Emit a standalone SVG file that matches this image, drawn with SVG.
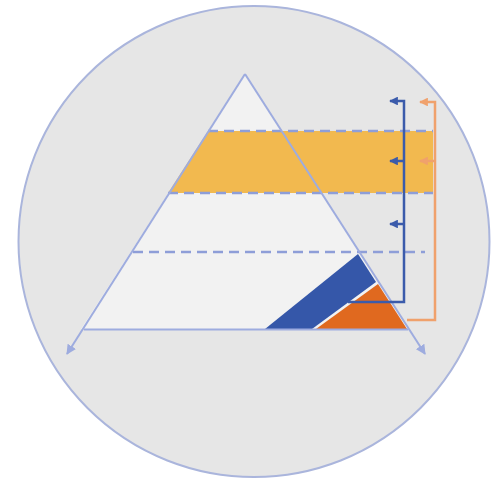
<svg xmlns="http://www.w3.org/2000/svg" width="497" height="482" viewBox="0 0 497 482">
<style>
.dash{stroke:#8e9ed8;stroke-width:2.5;stroke-dasharray:10,6;fill:none}
.edge{stroke:#9eacdf;stroke-width:2;fill:none}
.bl{stroke:#3b5bab;stroke-width:2.5;fill:none}
.or{stroke:#f0a16c;stroke-width:2.5;fill:none}
</style>
<defs>
<marker id="ae" viewBox="0 0 10 10" refX="9" refY="5" markerWidth="5" markerHeight="5" orient="auto"><path d="M0,0 L10,5 L0,10 z" fill="#9eacdf"/></marker>
<marker id="ab" viewBox="0 0 10 10" refX="9" refY="5" markerWidth="3.5" markerHeight="3.5" orient="auto"><path d="M0,0 L10,5 L0,10 z" fill="#3b5bab"/></marker>
<marker id="ao" viewBox="0 0 10 10" refX="9" refY="5" markerWidth="3.5" markerHeight="3.5" orient="auto"><path d="M0,0 L10,5 L0,10 z" fill="#f0a16c"/></marker>
</defs>
<rect width="497" height="482" fill="#ffffff"/>
<g id="circle"><circle cx="254" cy="241.5" r="235.5" fill="#e6e6e6" stroke="#aab5dc" stroke-width="2"/></g>
<g id="pyramid">
<polygon points="245,74 81,329 409,329" fill="#f2f2f2"/>
</g>
<g id="band"><polygon points="208,131 433,131 433,193 168,193" fill="#f2b94f"/></g>
<g id="blue-shape"><polygon points="265,329 358,254 376,282 312,329" fill="#3557a9"/></g>
<g id="orange-shape"><polygon points="378,284 407,329 316,329" fill="#e0691f"/></g>
<g id="connectors">
<line class="dash" x1="208" y1="131" x2="433" y2="131"/>
<line class="dash" x1="168" y1="193" x2="433" y2="193"/>
<line class="dash" x1="133" y1="252" x2="425" y2="252"/>
<line class="edge" x1="245" y1="74" x2="67" y2="354" marker-end="url(#ae)"/>
<line class="edge" x1="245" y1="74" x2="425" y2="354" marker-end="url(#ae)"/>
<line class="edge" x1="84" y1="329.5" x2="408" y2="329.5"/>
<polyline class="bl" points="348,302 404,302 404,101 390,101" marker-end="url(#ab)"/>
<line class="bl" x1="404" y1="161" x2="390" y2="161" marker-end="url(#ab)"/>
<line class="bl" x1="404" y1="224" x2="390" y2="224" marker-end="url(#ab)"/>
<polyline class="or" points="407,320 435,320 435,102 420,102" marker-end="url(#ao)"/>
<line class="or" x1="435" y1="161" x2="420" y2="161" marker-end="url(#ao)"/>
</g>
</svg>
